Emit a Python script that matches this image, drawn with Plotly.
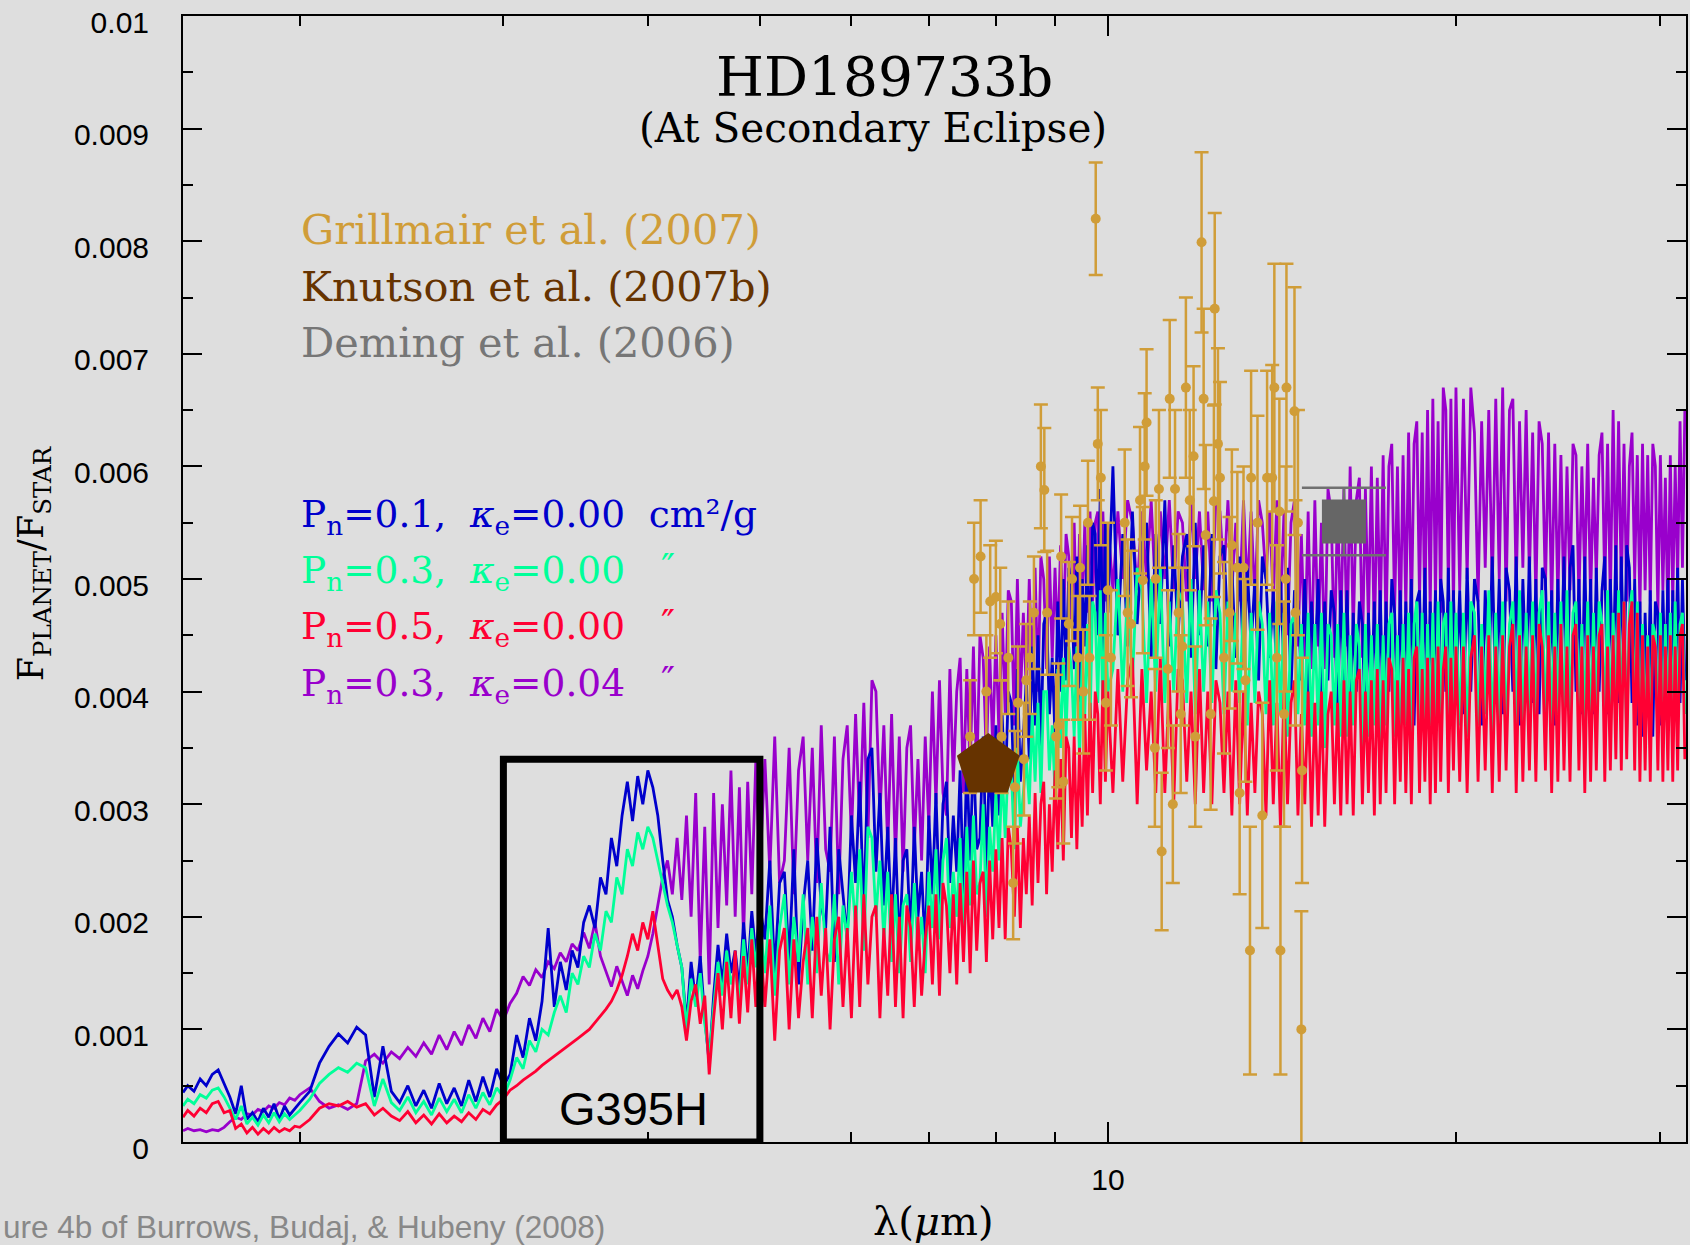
import plotly.graph_objects as go

# ---------------------------------------------------------------------------
# Model spectra of HD 189733b at secondary eclipse (planet/star flux ratio)
# ---------------------------------------------------------------------------

# Wavelength grid in microns shared by the four model spectra
wavelength_um = [
    1.585, 1.60, 1.62, 1.64, 1.66, 1.68, 1.70, 1.72, 1.74, 1.76, 1.78, 1.80, 1.82, 1.84, 1.86, 1.88, 1.90, 1.92, 1.94, 1.96, 1.98, 2.00,
    2.04, 2.08, 2.12, 2.16, 2.20, 2.24, 2.28, 2.32, 2.36, 2.40, 2.44, 2.48, 2.52, 2.56, 2.60, 2.64, 2.68, 2.72, 2.76, 2.80, 2.84, 2.88, 2.92, 2.96, 3.00,
    3.04, 3.08, 3.12, 3.16, 3.20, 3.24, 3.28, 3.32, 3.36, 3.40, 3.44, 3.48, 3.52, 3.56, 3.60, 3.64, 3.68, 3.72, 3.76, 3.80, 3.84, 3.88, 3.92, 3.96, 4.00,
    4.04, 4.08, 4.12, 4.16, 4.20, 4.24, 4.28, 4.32, 4.36, 4.40, 4.44, 4.48, 4.52, 4.56, 4.60, 4.64, 4.68, 4.72, 4.76, 4.80, 4.84, 4.88, 4.92, 4.96, 5.00,
    5.05, 5.10, 5.15, 5.20, 5.25, 5.30, 5.35, 5.40, 5.45, 5.50,
    5.55, 5.60, 5.65, 5.70, 5.75, 5.80, 5.85, 5.90, 5.95, 6.00,
    6.05, 6.10, 6.15, 6.20, 6.25, 6.30, 6.35, 6.40, 6.45, 6.50,
    6.55, 6.60, 6.65, 6.70, 6.75, 6.80, 6.85, 6.90, 6.95, 7.00,
    7.05, 7.10, 7.15, 7.20, 7.25, 7.30, 7.35, 7.40, 7.45, 7.50,
    7.55, 7.60, 7.65, 7.70, 7.75, 7.80, 7.85, 7.90, 7.95, 8.00,
    8.05, 8.10, 8.15, 8.20, 8.25, 8.30, 8.35, 8.40, 8.45, 8.50,
    8.55, 8.60, 8.65, 8.70, 8.75, 8.80, 8.85, 8.90, 8.95, 9.00,
    9.05, 9.10, 9.15, 9.20, 9.25, 9.30, 9.35, 9.40, 9.45, 9.50,
    9.55, 9.60, 9.65, 9.70, 9.75, 9.80, 9.85, 9.90, 9.95, 10.00,
    10.1, 10.2, 10.3, 10.4, 10.5, 10.6, 10.7, 10.8, 10.9, 11.0,
    11.1, 11.2, 11.3, 11.4, 11.5, 11.6, 11.7, 11.8, 11.9, 12.0,
    12.1, 12.2, 12.3, 12.4, 12.5, 12.6, 12.7, 12.8, 12.9, 13.0,
    13.1, 13.2, 13.3, 13.4, 13.5, 13.6, 13.7, 13.8, 13.9, 14.0,
    14.1, 14.2, 14.3, 14.4, 14.5, 14.6, 14.7, 14.8, 14.9, 15.0,
    15.1, 15.2, 15.3, 15.4, 15.5, 15.6, 15.7, 15.8, 15.9, 16.0,
    16.1, 16.2, 16.3, 16.4, 16.5, 16.6, 16.7, 16.8, 16.9, 17.0,
    17.1, 17.2, 17.3, 17.4, 17.5, 17.6, 17.7, 17.8, 17.9, 18.0,
    18.1, 18.2, 18.3, 18.4, 18.5, 18.6, 18.7, 18.8, 18.9, 19.0,
    19.1, 19.2, 19.3, 19.4, 19.5, 19.6, 19.7, 19.8, 19.9, 20.0,
    20.15, 20.30, 20.45, 20.60, 20.75, 20.90, 21.05, 21.20, 21.35, 21.50,
    21.65, 21.80, 21.95, 22.10, 22.25, 22.40, 22.55, 22.70, 22.85, 23.00,
    23.15, 23.30, 23.45, 23.60, 23.75, 23.90, 24.05, 24.20, 24.35, 24.50,
    24.65, 24.80, 24.95, 25.10, 25.25, 25.40, 25.55, 25.70, 25.85, 26.00,
    26.15, 26.30, 26.45, 26.60, 26.75, 26.90, 27.05, 27.20, 27.35, 27.50,
    27.65, 27.80, 27.95, 28.10, 28.25, 28.40, 28.55, 28.70, 28.85, 29.00,
    29.15, 29.30, 29.45, 29.60, 29.75, 29.90, 30.05, 30.20, 30.35, 30.50,
    30.65, 30.80, 30.95, 31.10, 31.25, 31.40, 31.55,
]

# Flux ratios in units of 1e-4
flux_pn01_k000 = [  # P_n = 0.1, kappa_e = 0.00
    4.4, 5.0, 4.5, 5.6, 5.0, 6.0, 6.4, 5.2, 4.0, 2.5, 5.0, 2.0, 2.6, 1.8, 3.0, 2.2, 3.4, 2.0, 3.2, 2.4, 3.0, 3.5,
    4.5, 7.0, 8.5, 9.6, 8.8, 10.2, 9.5, 4.0, 8.5, 4.5, 3.5, 5.0, 3.2, 4.6, 3.0, 5.2, 3.4, 4.8, 3.2, 5.5, 3.6, 5.8, 4.0, 6.5, 5.0,
    6.0, 9.5, 7.5, 11.0, 9.0, 12.5, 19.0, 12.0, 16.0, 13.5, 17.0, 15.5, 19.5, 21.0, 19.0, 23.5, 22.0, 27.0, 24.5, 29.0, 32.0, 28.5, 32.5, 30.0, 33.0,
    31.5, 29.0, 25.0, 21.5, 20.0, 17.5, 15.5, 10.5, 16.0, 12.5, 16.5, 11.0, 7.0, 13.0, 17.5, 14.0, 18.5, 15.0, 17.0, 13.5, 19.5, 15.0, 20.5, 16.5, 21.0,
    18, 25, 15, 23, 24, 16, 26, 14, 21, 25,
    17, 27, 21, 19, 28, 16, 26, 22, 18, 29,
    23, 32, 20, 34, 35, 24, 31, 21, 28, 19,
    27, 17, 25, 26, 18, 28, 20, 24, 17, 29,
    22, 31, 21, 30, 32, 23, 29, 24, 33, 22,
    34, 25, 35, 26, 27, 36, 24, 34, 28, 37,
    29, 38, 31, 40, 39, 30, 42, 32, 36, 41,
    34, 44, 37, 45, 35, 46, 47, 38, 43, 36,
    48, 40, 50, 41, 51, 49, 42, 52, 39, 50,
    44, 53, 43, 55, 54, 45, 58, 43, 55, 47,
    60, 45, 54, 44, 56, 46, 53, 55, 43, 54,
    46, 57, 44, 53, 45, 52, 54, 43, 55, 45,
    53, 44, 54, 42, 52, 53, 45, 51, 43, 52,
    42, 51, 44, 50, 41, 52, 50, 43, 49, 41,
    50, 42, 51, 40, 49, 48, 41, 50, 39, 48,
    42, 50, 39, 48, 41, 49, 47, 38, 49, 41,
    49, 37, 47, 40, 48, 46, 36, 47, 39, 48,
    38, 49, 37, 48, 40, 50, 47, 38, 49, 39,
    48, 40, 50, 37, 48, 49, 39, 51, 38, 48,
    39, 49, 38, 50, 48, 40, 51, 37, 49, 40,
    49, 38, 51, 40, 50, 48, 37, 49, 41, 52,
    39, 50, 38, 51, 49, 40, 52, 37, 50, 41,
    52, 39, 50, 38, 51, 50, 40, 49, 37, 50,
    41, 52, 39, 51, 53, 40, 50, 38, 52, 39,
    50, 38, 51, 40, 49, 52, 38, 50, 41, 53,
    39, 52, 41, 53, 51, 39, 50, 37, 48, 36,
    47, 38, 49, 36, 48, 47, 37, 49, 40, 50,
    38, 49, 40, 51, 39, 50, 41,
]

flux_pn03_k000 = [  # P_n = 0.3, kappa_e = 0.00
    3.2, 3.8, 3.4, 4.2, 3.9, 4.6, 4.8, 4.0, 3.0, 2.0, 3.2, 1.6, 2.2, 1.5, 2.4, 1.7, 2.6, 1.8, 2.5, 2.0, 2.4, 2.8,
    3.8, 5.2, 6.0, 6.6, 6.2, 7.0, 6.6, 3.2, 5.6, 3.5, 2.8, 4.0, 2.6, 3.6, 2.4, 3.9, 2.7, 3.8, 2.6, 4.2, 3.0, 4.4, 3.3, 4.8, 4.0,
    5.5, 7.5, 6.5, 9.0, 8.0, 10.0, 9.5, 11.5, 13.0, 11.5, 15.0, 14.0, 16.5, 15.5, 18.5, 17.0, 20.5, 19.5, 23.5, 22.0, 26.0, 24.5, 27.5, 26.0, 28.0,
    27.0, 25.0, 23.0, 21.0, 19.5, 17.5, 15.5, 10.0, 14.5, 12.0, 15.0, 10.5, 7.5, 12.0, 16.0, 13.0, 17.0, 14.0, 15.5, 12.5, 18.0, 14.0, 19.0, 15.5, 19.5,
    15, 21, 13, 19, 22, 14, 20, 16, 22, 14,
    20, 15, 23, 17, 16, 22, 14, 21, 18, 24,
    19, 26, 17, 28, 27, 20, 25, 18, 24, 16,
    22, 15, 21, 22, 16, 23, 17, 20, 15, 24,
    19, 26, 18, 25, 27, 19, 24, 20, 27, 18,
    28, 21, 29, 22, 23, 30, 20, 28, 24, 31,
    25, 33, 27, 34, 33, 26, 35, 28, 31, 34,
    30, 38, 32, 39, 31, 40, 40, 33, 37, 31,
    42, 35, 43, 36, 44, 42, 36, 44, 34, 43,
    38, 46, 37, 48, 47, 39, 49, 38, 47, 40,
    42, 50, 40, 49, 41, 51, 49, 39, 50, 40,
    51, 39, 48, 40, 49, 48, 39, 50, 38, 49,
    40, 48, 39, 49, 47, 38, 48, 40, 47, 39,
    48, 37, 47, 39, 48, 46, 38, 47, 37, 48,
    38, 47, 36, 46, 47, 38, 46, 37, 47, 36,
    46, 37, 47, 35, 46, 45, 37, 46, 36, 47,
    36, 45, 37, 46, 44, 35, 46, 36, 45, 37,
    46, 35, 45, 37, 46, 47, 36, 45, 35, 46,
    37, 47, 36, 46, 48, 37, 47, 35, 46, 37,
    47, 36, 48, 37, 46, 47, 36, 48, 37, 47,
    37, 47, 36, 48, 47, 37, 46, 38, 49, 36,
    47, 37, 48, 36, 46, 48, 37, 49, 36, 47,
    38, 48, 37, 47, 49, 36, 48, 37, 47, 38,
    48, 36, 49, 37, 47, 48, 38, 46, 37, 48,
    36, 47, 38, 48, 46, 37, 49, 36, 47, 38,
    49, 37, 48, 36, 47, 49, 37, 48, 35, 46,
    36, 45, 35, 46, 45, 36, 47, 35, 46, 37,
    47, 36, 48, 37, 46, 47, 38,
]

flux_pn05_k000 = [  # P_n = 0.5, kappa_e = 0.00
    2.2, 2.8, 2.3, 3.0, 2.6, 3.4, 3.6, 2.6, 2.8, 1.2, 1.6, 0.8, 1.3, 0.7, 1.2, 0.8, 1.3, 0.9, 1.2, 1.0, 1.4, 1.3,
    2.0, 3.0, 3.4, 3.2, 3.6, 3.1, 3.4, 2.4, 3.0, 2.3, 1.9, 2.7, 1.7, 2.4, 1.6, 2.5, 1.7, 2.3, 1.8, 2.6, 2.0, 2.9, 2.5, 3.3, 3.8,
    4.6, 5.0, 5.5, 5.9, 6.3, 6.8, 7.2, 7.6, 8.0, 8.4, 8.8, 9.2, 9.6, 10.0, 10.6, 11.2, 11.8, 12.5, 13.5, 14.8, 16.5, 18.5, 17.0, 19.5, 18.0,
    20.5, 17.5, 14.5, 13.5, 12.8, 13.5, 12.0, 9.0, 12.5, 14.0, 10.5, 13.0, 6.0, 11.0, 15.0, 10.0, 16.0, 11.0, 17.0, 10.5, 16.5, 11.5, 18.0, 12.0, 18.5,
    12, 18, 9, 17, 19, 10, 18, 11, 16, 19,
    11, 20, 13, 19, 10, 18, 20, 12, 19, 11,
    21, 12, 22, 14, 20, 21, 11, 19, 13, 22,
    12, 20, 11, 21, 19, 12, 20, 13, 18, 21,
    14, 22, 13, 23, 21, 15, 22, 14, 23, 16,
    24, 15, 25, 17, 23, 24, 16, 25, 18, 26,
    19, 27, 18, 28, 26, 20, 28, 19, 27, 22,
    29, 21, 31, 23, 30, 32, 22, 30, 24, 33,
    26, 34, 25, 36, 35, 27, 36, 26, 35, 28,
    38, 29, 39, 31, 40, 38, 30, 41, 32, 40,
    31, 42, 32, 41, 43, 30, 42, 33, 40, 31,
    43, 31, 41, 30, 42, 41, 32, 40, 30, 42,
    31, 40, 30, 41, 39, 31, 40, 29, 41, 30,
    40, 29, 39, 31, 40, 38, 29, 41, 30, 39,
    28, 40, 30, 39, 41, 29, 38, 30, 40, 28,
    39, 29, 40, 28, 38, 40, 30, 39, 29, 41,
    30, 40, 29, 41, 42, 30, 40, 31, 41, 29,
    42, 30, 41, 31, 43, 42, 30, 41, 32, 43,
    31, 42, 30, 43, 44, 31, 42, 32, 43, 30,
    43, 31, 44, 32, 42, 44, 31, 43, 33, 44,
    32, 44, 31, 43, 45, 32, 44, 33, 45, 31,
    44, 32, 45, 33, 44, 46, 31, 45, 32, 44,
    33, 45, 32, 46, 44, 33, 45, 31, 44, 32,
    46, 33, 44, 32, 45, 46, 33, 44, 31, 45,
    32, 44, 33, 45, 46, 32, 44, 33, 45, 34,
    47, 33, 48, 34, 46, 48, 33, 47, 32, 45,
    33, 44, 32, 45, 44, 33, 45, 32, 44, 33,
    45, 32, 44, 33, 45, 46, 34,
]

flux_pn03_k004 = [  # P_n = 0.3, kappa_e = 0.04
    1.0, 1.2, 1.0, 1.1, 0.9, 1.1, 1.0, 1.3, 1.8, 2.2, 2.0, 2.5, 2.4, 2.9, 2.7, 3.2, 3.0, 3.5, 3.3, 3.9, 3.7, 4.2,
    4.8, 3.6, 3.0, 3.3, 2.9, 3.4, 7.2, 7.8, 7.0, 8.0, 7.4, 8.4, 7.6, 8.8, 7.8, 9.5, 8.2, 9.8, 8.6, 10.4, 9.2, 11.0, 9.8, 11.8, 10.8,
    12.3, 13.2, 14.7, 13.9, 15.3, 14.6, 16.0, 15.4, 16.8, 16.0, 17.6, 17.0, 18.6, 17.2, 19.5, 16.5, 15.2, 13.8, 15.6, 14.2, 13.0, 14.8, 13.6, 15.2, 16.5,
    18.5, 21.0, 23.5, 25.0, 22.0, 27.0, 21.5, 29.0, 20.0, 31.0, 16.0, 28.0, 14.0, 31.0, 19.0, 30.0, 21.0, 33.0, 20.0, 31.5, 18.0, 32.0, 22.0, 34.0, 24.0,
    34, 24, 36, 23, 25, 35, 22, 33, 36, 25,
    35, 23, 37, 26, 24, 36, 22, 34, 37, 27,
    38, 28, 39, 27, 41, 40, 29, 37, 26, 38,
    25, 36, 24, 35, 37, 26, 34, 25, 36, 28,
    40, 30, 41, 31, 29, 42, 32, 40, 43, 31,
    42, 33, 44, 32, 45, 43, 34, 44, 35, 45,
    36, 47, 38, 49, 48, 37, 50, 39, 47, 40,
    50, 41, 51, 40, 52, 50, 42, 52, 43, 51,
    44, 53, 45, 54, 52, 46, 55, 44, 54, 47,
    55, 47, 56, 48, 55, 56, 46, 56, 48, 55,
    49, 56, 50, 57, 55, 49, 56, 50, 57, 48,
    56, 50, 57, 49, 56, 55, 48, 57, 50, 56,
    49, 56, 48, 57, 56, 50, 57, 49, 55, 48,
    57, 49, 56, 48, 57, 55, 50, 56, 48, 57,
    47, 56, 45, 55, 57, 44, 54, 43, 56, 42,
    57, 44, 55, 42, 58, 56, 43, 57, 45, 58,
    44, 60, 45, 57, 59, 43, 58, 46, 60, 44,
    59, 46, 61, 45, 60, 62, 47, 60, 45, 61,
    47, 63, 46, 62, 64, 48, 63, 46, 65, 47,
    66, 48, 64, 47, 67, 65, 49, 66, 47, 67,
    49, 66, 50, 67, 63, 48, 64, 51, 65, 49,
    66, 50, 67, 48, 65, 66, 49, 64, 51, 65,
    50, 63, 48, 64, 62, 49, 63, 47, 62, 48,
    61, 47, 60, 49, 62, 61, 48, 60, 50, 62,
    48, 59, 50, 61, 63, 49, 62, 48, 65, 50,
    64, 49, 62, 48, 60, 63, 50, 61, 47, 62,
    49, 61, 48, 62, 60, 47, 61, 49, 59, 46,
    61, 48, 60, 50, 64, 51, 65,
]

# Grillmair et al. (2007) IRS spectrum: wavelength (micron), ratio and 1-sigma error in units of 1e-3
grillmair_um = [
    7.60, 7.66, 7.76, 7.85, 7.91, 8.00, 8.07, 8.09, 8.20, 8.28, 8.31, 8.36, 8.46, 8.50, 8.56, 8.63,
    8.75, 8.81, 8.86, 9.02, 9.06, 9.11, 9.15, 9.25, 9.31, 9.42, 9.46, 9.52, 9.61, 9.64,
    9.76, 9.80, 9.86, 9.96, 10.00, 10.06, 10.34, 10.40, 10.47, 10.66, 10.72, 10.76, 10.80,
    10.98, 11.00, 11.07, 11.13, 11.27, 11.31, 11.38, 11.43, 11.51, 11.56, 11.60,
    11.68, 11.77, 11.86, 11.90, 12.05, 12.10, 12.15, 12.27, 12.35, 12.37, 12.45, 12.50, 12.60, 12.74, 12.80, 12.94,
    13.00, 13.10, 13.15, 13.27, 13.30, 13.47, 13.60, 13.73, 13.87, 13.93, 14.00, 14.07, 14.10, 14.20, 14.25,
    14.27, 14.50, 14.53, 14.60, 14.70, 14.72,
]
grillmair_e3 = [
    3.60, 5.00, 5.20, 4.00, 4.80, 4.84, 4.60, 3.60, 4.30, 2.30, 3.15, 3.90, 3.40, 4.10, 4.30, 4.70,
    6.00, 5.79, 4.70, 3.60, 3.70, 5.20, 3.20, 4.60, 5.00, 4.30, 5.10, 4.00, 5.50, 4.30,
    8.20, 6.20, 5.90, 3.90, 4.90, 4.30, 5.50, 4.70, 4.60, 5.70, 4.99, 6.00, 6.39,
    3.50, 5.00, 5.80, 2.58, 4.20, 6.60, 3.00, 5.80, 4.70, 3.80, 4.40,
    6.70, 5.70, 6.09, 3.60, 7.99, 6.60, 5.39, 3.80, 5.69, 7.40, 6.20, 5.90, 4.30, 4.70, 5.30, 5.10,
    3.10, 5.10, 4.10, 1.70, 5.90, 5.50, 2.90, 5.90, 5.90, 6.70, 4.30, 5.60, 1.70, 3.80, 5.00,
    6.70, 6.49, 4.70, 5.50, 1.00, 3.30,
]
grillmair_err_e3 = [
    0.50, 0.50, 0.50, 0.50, 0.50, 0.50, 0.50, 0.50, 0.50, 0.50, 0.50, 0.50, 0.50, 0.50, 0.50, 0.50,
    0.55, 0.55, 0.55, 0.55, 0.55, 0.55, 0.55, 0.55, 0.55, 0.55, 0.55, 0.55, 0.55, 0.55,
    0.50, 0.50, 0.60, 0.60, 0.60, 0.60, 0.65, 0.65, 0.65, 0.65, 0.65, 0.65, 0.65,
    0.70, 0.70, 0.70, 0.70, 0.70, 0.70, 0.70, 0.70, 0.70, 0.70, 0.70,
    0.80, 0.80, 0.80, 0.80, 0.80, 0.80, 0.80, 0.85, 0.85, 0.85, 0.85, 0.85, 0.85, 0.85, 0.85, 0.85,
    0.90, 0.90, 0.90, 1.10, 0.95, 0.95, 1.00, 0.95, 1.00, 1.10, 1.00, 1.00, 1.10, 1.00, 1.00,
    1.10, 1.10, 1.00, 1.00, 1.05, 1.00,
]

# Knutson et al. (2007b) 8-micron eclipse depth (units of 1e-3)
knutson_um = [7.88]
knutson_e3 = [3.34]

# Deming et al. (2006) 16-micron eclipse depth (units of 1e-3)
deming_um = [16.0]
deming_e3 = [5.51]
deming_err_e3 = [0.30]

# NIRSpec G395H band and the height of its outline box
g395h_band_um = [3.0, 5.0]
g395h_box_top_e3 = 3.4

# Axis ticks
y_tick_vals = [0, 0.001, 0.002, 0.003, 0.004, 0.005, 0.006, 0.007, 0.008, 0.009, 0.01]
y_tick_text = ["0", "0.001", "0.002", "0.003", "0.004", "0.005", "0.006", "0.007", "0.008", "0.009", "0.01"]
x_major_ticks = [10]
x_major_text = ["10"]
x_minor_ticks = [2, 3, 4, 5, 6, 7, 8, 9, 20, 30]

# ---------------------------------------------------------------------------
BG = "rgb(222,222,222)"
BLUE = "rgb(0,0,204)"
GREEN = "rgb(0,255,153)"
RED = "rgb(255,0,51)"
PURPLE = "rgb(153,0,204)"
GOLD = "rgb(208,157,56)"
BROWN = "rgb(102,51,0)"
GREY = "rgb(118,118,118)"
SERIF = "DejaVu Serif"
SANS = "Liberation Sans"


def scaled(values, unit):
    return [v * unit for v in values]


fig = go.Figure()

# Drawing order: absorbing model underneath, then the three clear models
for vals, color in [
    (flux_pn03_k004, PURPLE),
    (flux_pn01_k000, BLUE),
    (flux_pn03_k000, GREEN),
    (flux_pn05_k000, RED),
]:
    fig.add_trace(go.Scatter(
        x=wavelength_um, y=scaled(vals, 1e-4), mode="lines",
        line=dict(color=color, width=2.8), hoverinfo="skip",
    ))

# Grillmair et al. spectrum with error bars
fig.add_trace(go.Scatter(
    x=grillmair_um, y=scaled(grillmair_e3, 1e-3), mode="markers",
    marker=dict(color=GOLD, size=10),
    error_y=dict(type="data", array=scaled(grillmair_err_e3, 1e-3),
                 color=GOLD, thickness=2.5, width=7),
))

# Knutson et al. 8 micron point
fig.add_trace(go.Scatter(
    x=knutson_um, y=scaled(knutson_e3, 1e-3), mode="markers",
    marker=dict(symbol="pentagon", size=66, color=BROWN, line=dict(width=0)),
))

# Deming et al. 16 micron point
fig.add_trace(go.Scatter(
    x=deming_um, y=scaled(deming_e3, 1e-3), mode="markers",
    marker=dict(symbol="square", size=44, color="rgb(102,102,102)", line=dict(width=0)),
    error_y=dict(type="data", array=scaled(deming_err_e3, 1e-3),
                 color="rgb(112,112,112)", thickness=2.5, width=42),
))

# G395H outline
lo, hi = g395h_band_um
top = g395h_box_top_e3 * 1e-3
fig.add_trace(go.Scatter(
    x=[lo, hi, hi, lo, lo], y=[0, 0, top, top, 0], mode="lines",
    line=dict(color="black", width=7), hoverinfo="skip",
))


def px(X):
    return (X - 183) / 1506


def py(Y):
    return (1142 - Y) / 1126


annotations = [
    dict(text="HD189733b", x=px(886), y=py(77), font=dict(family=SERIF, size=55, color="black")),
    dict(text="(At Secondary Eclipse)", x=px(874), y=py(128), font=dict(family=SERIF, size=40.5, color="black")),
    dict(text="Grillmair et al. (2007)", x=px(299), y=py(229), xanchor="left",
         font=dict(family=SERIF, size=41.5, color=GOLD)),
    dict(text="Knutson et al. (2007b)", x=px(299), y=py(286), xanchor="left",
         font=dict(family=SERIF, size=41.5, color=BROWN)),
    dict(text="Deming et al. (2006)", x=px(299), y=py(343), xanchor="left",
         font=dict(family=SERIF, size=41.5, color=GREY)),
    dict(text="P<sub>n</sub>=0.1,  <i>κ</i><sub>e</sub>=0.00  cm²/g", x=px(299), y=py(516), xanchor="left",
         font=dict(family=SERIF, size=37.5, color=BLUE)),
    dict(text="P<sub>n</sub>=0.3,  <i>κ</i><sub>e</sub>=0.00", x=px(299), y=py(572), xanchor="left",
         font=dict(family=SERIF, size=37.5, color=GREEN)),
    dict(text="P<sub>n</sub>=0.5,  <i>κ</i><sub>e</sub>=0.00", x=px(299), y=py(628), xanchor="left",
         font=dict(family=SERIF, size=37.5, color=RED)),
    dict(text="P<sub>n</sub>=0.3,  <i>κ</i><sub>e</sub>=0.04", x=px(299), y=py(685), xanchor="left",
         font=dict(family=SERIF, size=37.5, color=PURPLE)),
    dict(text="″", x=px(669), y=py(567), font=dict(family=SERIF, size=37.5, color=GREEN)),
    dict(text="″", x=px(669), y=py(623), font=dict(family=SERIF, size=37.5, color=RED)),
    dict(text="″", x=px(669), y=py(680), font=dict(family=SERIF, size=37.5, color=PURPLE)),
    dict(text="G395H", x=px(634), y=py(1108), font=dict(family=SANS, size=47, color="black")),
    dict(text="F<sub>PLANET</sub>/F<sub>STAR</sub>", x=px(33), y=py(563), textangle=-90,
         font=dict(family=SERIF, size=35, color="black")),
    dict(text="λ(<i>μ</i>m)", x=px(935), y=py(1221), font=dict(family=SERIF, size=40, color="black")),
    dict(text="ure 4b of Burrows, Budaj, & Hubeny (2008)", x=px(1), y=py(1227), xanchor="left",
         font=dict(family=SANS, size=31.5, color="rgb(136,136,136)")),
]
for a in annotations:
    a.setdefault("xref", "paper")
    a.setdefault("yref", "paper")
    a.setdefault("xanchor", "center")
    a.setdefault("yanchor", "middle")
    a.setdefault("showarrow", False)

axis_common = dict(
    showline=True, linecolor="black", linewidth=2, mirror="ticks",
    ticks="inside", tickcolor="black", tickwidth=2,
    showgrid=False, zeroline=False,
    tickfont=dict(family=SANS, size=30, color="black"),
    ticklabeloverflow="allow",
)

fig.update_layout(
    width=1690, height=1245,
    margin=dict(l=183, r=2, t=16, b=103),
    paper_bgcolor=BG, plot_bgcolor=BG,
    showlegend=False,
    font=dict(family=SANS),
    annotations=annotations,
    xaxis=dict(
        type="log", range=[0.2, 1.5],
        tickmode="array", tickvals=x_major_ticks, ticktext=x_major_text,
        ticklen=20, ticklabelstandoff=10,
        minor=dict(tickmode="array", tickvals=x_minor_ticks, ticks="inside",
                   ticklen=10, tickwidth=2, tickcolor="black", showgrid=False),
        **axis_common,
    ),
    yaxis=dict(
        range=[0, 0.0100001],
        tickmode="array", tickvals=y_tick_vals, ticktext=y_tick_text,
        ticklen=19, ticklabelstandoff=26, ticklabelshift=6,
        minor=dict(tickmode="linear", tick0=0, dtick=0.0005, ticks="inside",
                   ticklen=10, tickwidth=2, tickcolor="black", showgrid=False),
        **axis_common,
    ),
)

fig.write_html("out.html")
